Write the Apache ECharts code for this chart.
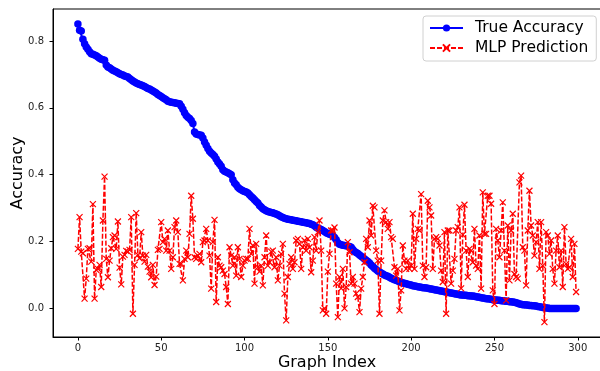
<!DOCTYPE html>
<html>
<head>
  <meta charset="utf-8">
  <title>True Accuracy vs MLP Prediction</title>
  <script src="https://cdn.jsdelivr.net/npm/echarts@6/dist/echarts.min.js"></script>
  <style>
    html, body { margin: 0; padding: 0; background: #fff; }
    #chart { width: 600px; height: 371px; }
  </style>
</head>
<body>
  <div id="chart"></div>
  <script>
    // 真实精度（按降序排列的300个图）
    var trueAccuracy = [
      0.851, 0.832, 0.830, 0.805, 0.792, 0.782, 0.775, 0.768, 0.762, 0.760,
      0.758, 0.756, 0.752, 0.748, 0.745, 0.744, 0.742, 0.728, 0.722, 0.720,
      0.716, 0.712, 0.710, 0.708, 0.705, 0.702, 0.700, 0.698, 0.695, 0.694,
      0.692, 0.688, 0.684, 0.680, 0.677, 0.674, 0.672, 0.670, 0.668, 0.666,
      0.664, 0.661, 0.658, 0.656, 0.653, 0.650, 0.647, 0.644, 0.640, 0.637,
      0.634, 0.630, 0.627, 0.624, 0.620, 0.618, 0.617, 0.616, 0.615, 0.614,
      0.613, 0.612, 0.605, 0.596, 0.585, 0.577, 0.572, 0.568, 0.562, 0.553,
      0.528, 0.522, 0.520, 0.519, 0.518, 0.510, 0.498, 0.488, 0.478, 0.470,
      0.465, 0.460, 0.455, 0.447, 0.438, 0.432, 0.425, 0.415, 0.410, 0.408,
      0.406, 0.403, 0.400, 0.385, 0.375, 0.370, 0.362, 0.358, 0.355, 0.352,
      0.350, 0.348, 0.345, 0.340, 0.335, 0.330, 0.325, 0.320, 0.315, 0.308,
      0.303, 0.298, 0.295, 0.292, 0.290, 0.288, 0.287, 0.286, 0.284, 0.282,
      0.280, 0.277, 0.274, 0.272, 0.270, 0.268, 0.267, 0.266, 0.265, 0.264,
      0.263, 0.262, 0.261, 0.260, 0.259, 0.258, 0.257, 0.256, 0.255, 0.254,
      0.252, 0.250, 0.247, 0.243, 0.240, 0.238, 0.236, 0.233, 0.230, 0.226,
      0.224, 0.222, 0.220, 0.217, 0.212, 0.205, 0.196, 0.192, 0.190, 0.189,
      0.188, 0.187, 0.186, 0.185, 0.183, 0.176, 0.170, 0.167, 0.164, 0.160,
      0.156, 0.152, 0.148, 0.144, 0.140, 0.136, 0.130, 0.125, 0.120, 0.116,
      0.112, 0.109, 0.106, 0.103, 0.100, 0.098, 0.096, 0.093, 0.090, 0.088,
      0.086, 0.084, 0.082, 0.080, 0.078, 0.076, 0.075, 0.074, 0.072, 0.071,
      0.070, 0.068, 0.067, 0.066, 0.065, 0.064, 0.063, 0.062, 0.062, 0.061,
      0.060, 0.059, 0.058, 0.057, 0.056, 0.055, 0.054, 0.053, 0.052, 0.051,
      0.050, 0.049, 0.048, 0.047, 0.046, 0.045, 0.044, 0.043, 0.042, 0.041,
      0.040, 0.040, 0.039, 0.039, 0.038, 0.038, 0.037, 0.037, 0.036, 0.035,
      0.034, 0.033, 0.032, 0.031, 0.030, 0.029, 0.029, 0.028, 0.027, 0.026,
      0.025, 0.025, 0.024, 0.024, 0.023, 0.023, 0.022, 0.021, 0.021, 0.020,
      0.020, 0.019, 0.018, 0.017, 0.015, 0.013, 0.012, 0.011, 0.011, 0.010,
      0.010, 0.009, 0.009, 0.008, 0.008, 0.007, 0.006, 0.005, 0.004, 0.003,
      0.002, 0.001, 0.001, 0.000, 0.000, 0.000, 0.000, 0.000, 0.000, 0.000,
      0.000, 0.000, 0.000, 0.000, 0.000, 0.000, 0.000, 0.000, 0.000, 0.000
    ];

    // MLP 预测值
    var mlpPrediction = [
      0.178, 0.273, 0.170, 0.165, 0.029, 0.089, 0.178, 0.180, 0.140, 0.312,
      0.029, 0.115, 0.118, 0.130, 0.064, 0.263, 0.394, 0.148, 0.093, 0.143,
      0.180, 0.213, 0.218, 0.178, 0.260, 0.122, 0.072, 0.155, 0.160, 0.172,
      0.170, 0.175, 0.273, -0.016, 0.130, 0.285, 0.160, 0.150, 0.228, 0.158,
      0.140, 0.160, 0.125, 0.110, 0.093, 0.130, 0.070, 0.095, 0.175, 0.178,
      0.258, 0.198, 0.208, 0.173, 0.233, 0.173, 0.118, 0.153, 0.243, 0.263,
      0.228, 0.133, 0.133, 0.084, 0.148, 0.173, 0.153, 0.223, 0.337, 0.268,
      0.153, 0.148, 0.158, 0.163, 0.138, 0.198, 0.203, 0.238, 0.203, 0.158,
      0.059, 0.198, 0.265, 0.019, 0.153, 0.128, 0.123, 0.113, 0.103, 0.064,
      0.013, 0.183, 0.158, 0.128, 0.153, 0.098, 0.183, 0.148, 0.094, 0.128,
      0.143, 0.148, 0.148, 0.238, 0.163, 0.188, 0.074, 0.193, 0.123, 0.110,
      0.128, 0.069, 0.153, 0.218, 0.128, 0.138, 0.170, 0.173, 0.123, 0.153,
      0.084, 0.128, 0.163, 0.193, 0.044, -0.036, 0.094, 0.133, 0.153, 0.118,
      0.138, 0.203, 0.208, 0.193, 0.118, 0.183, 0.203, 0.173, 0.208, 0.183,
      0.108, 0.143, 0.213, 0.173, 0.228, 0.263, 0.173, -0.006, 0.000, -0.016,
      0.110, 0.163, 0.233, 0.233, 0.242, 0.074, -0.026, 0.094, 0.060, 0.118,
      0.000, 0.064, 0.198, 0.168, 0.074, 0.094, 0.074, 0.044, 0.034, -0.011,
      0.059, 0.094, 0.138, 0.208, 0.183, 0.263, 0.218, 0.307, 0.302, 0.173,
      0.143, -0.016, 0.143, 0.263, 0.293, 0.258, 0.238, 0.258, 0.213, 0.208,
      0.123, 0.098, 0.118, -0.006, 0.054, 0.188, 0.143, 0.118, 0.143, 0.118,
      0.128, 0.283, 0.118, 0.208, 0.238, 0.233, 0.342, 0.128, 0.094, 0.123,
      0.322, 0.302, 0.278, 0.118, 0.208, 0.213, 0.208, 0.188, 0.113, 0.079,
      0.228, -0.016, 0.233, 0.233, 0.074, 0.113, 0.148, 0.233, 0.243, 0.302,
      0.060, 0.220, 0.310, 0.173, 0.094, 0.178, 0.173, 0.138, 0.238, 0.128,
      0.118, 0.218, 0.059, 0.347, 0.223, 0.223, 0.337, 0.337, 0.313, 0.054,
      0.013, 0.238, 0.203, 0.153, 0.233, 0.317, 0.173, 0.024, 0.248, 0.084,
      0.233, 0.283, 0.103, 0.094, 0.089, 0.377, 0.397, 0.183, 0.173, 0.069,
      0.233, 0.352, 0.248, 0.218, 0.158, 0.198, 0.258, 0.118, 0.258, 0.128,
      -0.041, 0.228, 0.218, 0.163, 0.203, 0.118, 0.074, 0.173, 0.218, 0.123,
      0.173, 0.064, 0.243, 0.133, 0.118, 0.123, 0.208, 0.094, 0.193, 0.049
    ];

    // 刻度
    var xTicks = [0, 50, 100, 150, 200, 250, 300];
    var yTicks = [0.0, 0.2, 0.4, 0.6, 0.8];

    var chart = echarts.init(document.getElementById('chart'), null, { renderer: 'canvas' });

    var trueData = trueAccuracy.map(function (v, i) { return [i, v]; });
    var mlpData = mlpPrediction.map(function (v, i) { return [i, v]; });

    var font = 'DejaVu Sans';
    var crossPath = 'path://M0,0L10,10M10,0L0,10';

    var option = {
      animation: false,
      backgroundColor: '#fff',
      grid: {
        left: 53, right: -1, top: 9, bottom: 34,
        show: true, borderColor: '#000', borderWidth: 1,
        containLabel: false,
        outerBoundsMode: 'none'
      },
      legend: {
        left: 423, top: 16,
        orient: 'vertical',
        itemWidth: 33, itemHeight: 9,
        itemGap: 4,
        padding: [4, 8, 5, 6],
        backgroundColor: 'rgba(255,255,255,0.8)',
        borderColor: '#d0d0d0', borderWidth: 1, borderRadius: 3,
        textStyle: { fontFamily: font, fontSize: 15.5, color: '#000', padding: [0, 0, 0, 7] },
        data: ['True Accuracy', 'MLP Prediction']
      },
      xAxis: {
        type: 'value',
        min: -14.95, max: 313.95,
        name: 'Graph Index',
        nameLocation: 'middle',
        nameGap: 18,
        nameMoveOverlap: false,
        nameTextStyle: { fontFamily: font, fontSize: 16, color: '#000', verticalAlign: 'top' },
        axisLine: { show: true, onZero: false, lineStyle: { color: '#000', width: 1 } },
        axisTick: { show: true, inside: false, length: 3.5, lineStyle: { color: '#000' }, customValues: xTicks },
        axisLabel: {
          fontFamily: font, fontSize: 10, color: '#222', margin: 6,
          customValues: xTicks,
          formatter: function (v) { return String(Math.round(v)); }
        },
        splitLine: { show: false }
      },
      yAxis: {
        type: 'value',
        min: -0.0856, max: 0.8956,
        name: 'Accuracy',
        nameLocation: 'middle',
        nameGap: 35,
        nameMoveOverlap: false,
        nameRotate: 90,
        nameTextStyle: { fontFamily: font, fontSize: 16, color: '#000', verticalAlign: 'middle' },
        axisLine: { show: true, onZero: false, lineStyle: { color: '#000', width: 1 } },
        axisTick: { show: true, inside: false, length: 3.5, lineStyle: { color: '#000' }, customValues: yTicks },
        axisLabel: {
          fontFamily: font, fontSize: 10, color: '#222', margin: 9,
          customValues: yTicks,
          formatter: function (v) { return v.toFixed(1); }
        },
        splitLine: { show: false }
      },
      series: [
        {
          name: 'True Accuracy',
          type: 'line',
          data: trueData,
          symbol: 'circle',
          symbolSize: 7.5,
          showAllSymbol: true,
          lineStyle: { color: '#0000ff', width: 2 },
          itemStyle: { color: '#0000ff' },
          z: 2
        },
        {
          name: 'MLP Prediction',
          type: 'line',
          data: mlpData,
          symbol: crossPath,
          symbolSize: 6,
          showAllSymbol: true,
          lineStyle: { color: '#ff0000', width: 1.5, type: [5, 2] },
          itemStyle: { color: 'rgba(0,0,0,0)', borderColor: '#ff0000', borderWidth: 1.2 },
          z: 3
        }
      ]
    };

    chart.setOption(option);
  </script>
</body>
</html>
